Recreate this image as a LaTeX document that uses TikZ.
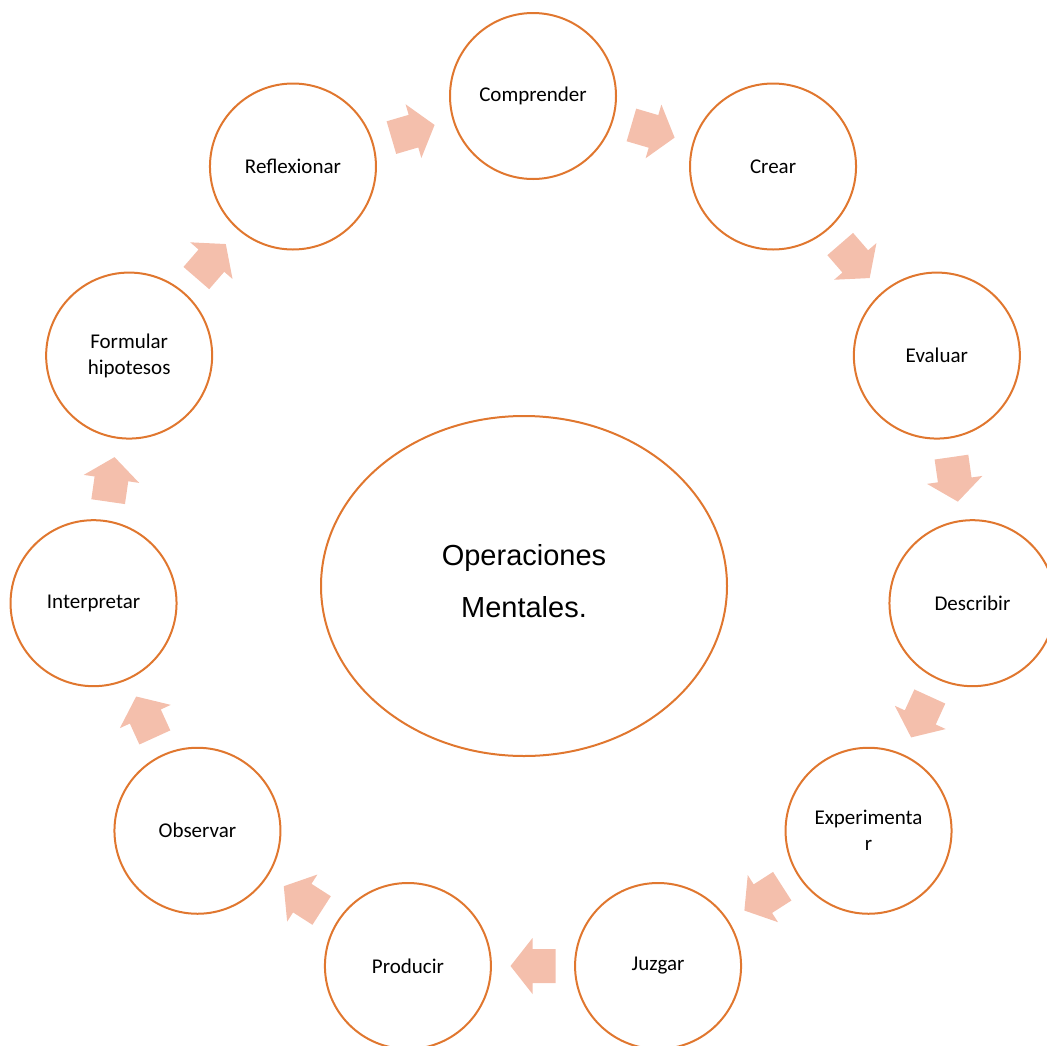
\documentclass[tikz,border=0pt]{standalone}
\usepackage{fontspec}
\setmainfont{Carlito}
\newfontfamily\arialf{Liberation Sans}
\usetikzlibrary{shapes.geometric}
\definecolor{ring}{HTML}{E0772F}
\definecolor{arrowfill}{HTML}{F4BFAC}
\begin{document}
\begin{tikzpicture}[x=1pt,y=1pt,
  stage/.style={circle, draw=ring, line width=2pt, minimum size=166pt, inner sep=0pt,
    align=center, font=\fontsize{21}{26}\selectfont},
  centre/.style={ellipse, draw=ring, line width=2pt, minimum width=406pt, minimum height=340pt,
    inner sep=0pt},
  centretext/.style={align=center, inner sep=0pt, font=\arialf\fontsize{29}{52}\selectfont},
  cyclearrow/.style={fill=arrowfill, draw=none}]
\useasboundingbox (0,0) rectangle (1047,-1045);
\coordinate (c) at (533,-540);
\node[centre] (mid) at (524,-586) {};
\node[centretext] (midlabel) at (524,-581) {Operaciones\\Mentales.};
\node[stage] (comprender) at ([shift={(90:444)}]c) {Comprender};
\node[stage] (crear) at ([shift={(57.2727:444)}]c) {Crear};
\node[stage] (evaluar) at ([shift={(24.5455:444)}]c) {Evaluar};
\node[stage] (describir) at ([shift={(-8.1818:444)}]c) {Describir};
\node[stage] (experimentar) at ([shift={(-40.9091:444)}]c) {Experimenta\\r};
\node[stage] (juzgar) at ([shift={(-73.6364:444)}]c) {Juzgar};
\node[stage] (producir) at ([shift={(-106.3636:444)}]c) {Producir};
\node[stage] (observar) at ([shift={(-139.0909:444)}]c) {Observar};
\node[stage] (interpretar) at ([shift={(-171.8182:444)}]c) {Interpretar};
\node[stage] (formular) at ([shift={(155.4545:444)}]c) {Formular\\hipotesos};
\node[stage] (reflexionar) at ([shift={(122.7273:444)}]c) {Reflexionar};
\foreach \k in {0,...,10} {
  \pgfmathsetmacro\ang{90-(\k+0.5)*360/11}
  \begin{scope}[shift={(c)}, shift={(\ang:426)}, rotate=\ang-90]
    \fill[cyclearrow] (-22.5,-17) -- (0.5,-17) -- (0.5,-28) -- (22.5,0) -- (0.5,28) -- (0.5,17) -- (-22.5,17) -- cycle;
  \end{scope}
}
\end{tikzpicture}
\end{document}
